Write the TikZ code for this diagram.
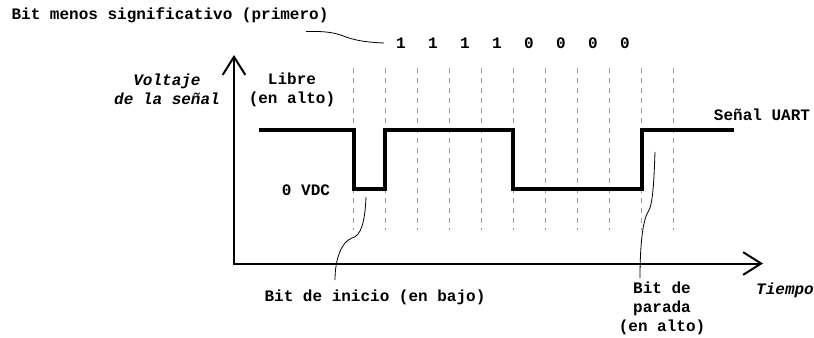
\documentclass[tikz,border=0pt]{standalone}
\usepackage{fontspec}
\setmainfont{Liberation Mono}
\usetikzlibrary{arrows.meta}
\begin{document}
\begin{tikzpicture}[x=0.75pt,y=-0.75pt,
  font=\fontsize{12}{14.2}\selectfont\bfseries,
  every node/.style={inner sep=0pt, outer sep=0pt},
  lbl/.style={align=center},
  ilbl/.style={align=center, font=\fontsize{12}{14.2}\selectfont\bfseries\itshape},
  axisline/.style={line width=1.5pt, line join=miter,
    {Straight Barb[length=13.5pt,width=17pt,line width=1.5pt]}-{Straight Barb[length=13.5pt,width=17pt,line width=1.5pt]}},
  gridline/.style={draw=black!40, line width=0.75pt, dash pattern=on 3.75pt off 3.75pt},
  signal/.style={line width=3pt, line join=miter},
  leader/.style={line width=0.6pt}]
\useasboundingbox (0,0) rectangle (814,337);

% dashed bit boundaries
\foreach \i in {0,...,10}{
  \draw[gridline] ({353.5+32*\i},68) -- ({353.5+32*\i},230);
}

% axes
\coordinate (ytip) at (234,55);
\coordinate (origin) at (234,263.5);
\coordinate (xtip) at (763,263.5);
\draw[axisline] (ytip) -- (origin) -- (xtip);

% signal
\draw[signal] (259,130) -- (353.5,130) -- (353.5,189) -- (385,189) -- (385,130)
  -- (513,130) -- (513,189) -- (641.5,189) -- (641.5,130) -- (734,130);

% texts
\node[lbl] (lsb) at (170,15) {Bit menos significativo (primero)};
\node (b1) at (401,43) {1};
\node (b2) at (433,43) {1};
\node (b3) at (465,43) {1};
\node (b4) at (497,43) {1};
\node (b5) at (529,43) {0};
\node (b6) at (561,43) {0};
\node (b7) at (593,43) {0};
\node (b8) at (625,43) {0};
\node[ilbl] (volt) at (167,89) {Voltaje\\de la señal};
\node[lbl] (libre) at (292,90) {Libre\\(en alto)};
\node[lbl] (vdc) at (306,190) {0 VDC};
\node[lbl] (uart) at (762,115) {Señal UART};
\node[lbl] (inicio) at (375,297) {Bit de inicio (en bajo)};
\node[lbl] (parada) at (662,308) {Bit de\\parada\\(en alto)};
\node[ilbl] (tiempo) at (785,290) {Tiempo};

% leader curves
\coordinate (lsbend) at (306,31.5);
\draw[leader] (lsbend) .. controls (328,31) and (336,33) .. (346,37)
  .. controls (357,41) and (370,42.5) .. ([xshift=-9pt]b1.west);
\coordinate (startpt) at (366,197);
\coordinate (startend) at (335,280);
\draw[leader] (startpt) .. controls (365,222) and (361,236) .. (352,238)
  .. controls (341,242) and (335,260) .. (startend);
\coordinate (stoppt) at (655,152);
\coordinate (stopend) at (640,278);
\draw[leader] (stoppt) .. controls (654,180) and (653,205) .. (648,212)
  .. controls (642,222) and (640,250) .. (stopend);
\end{tikzpicture}
\end{document}
